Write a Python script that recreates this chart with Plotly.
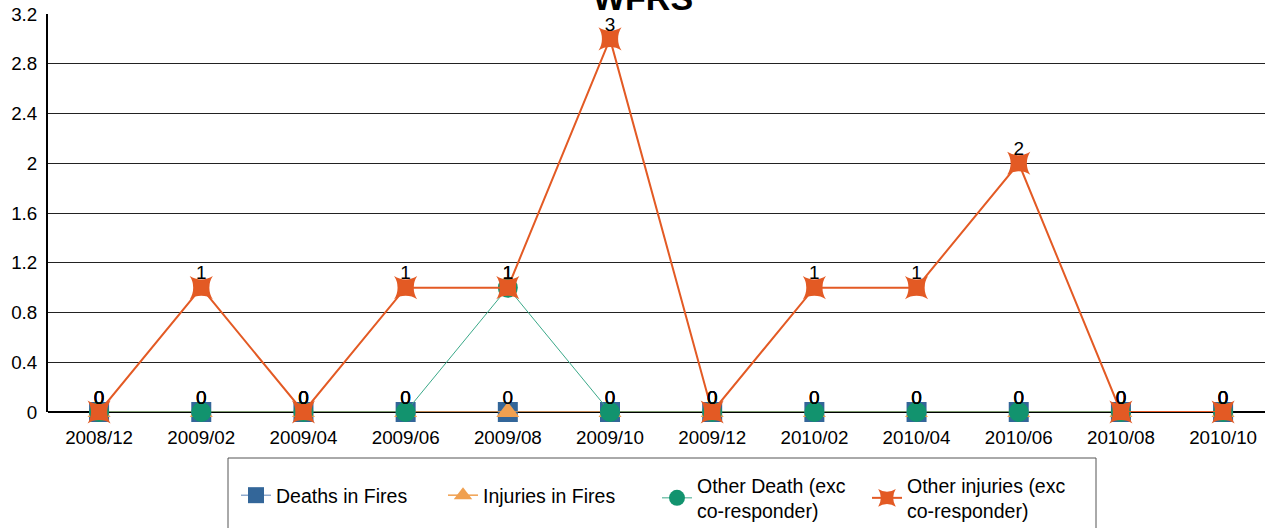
import plotly.graph_objects as go

categories = ["2008/12", "2009/02", "2009/04", "2009/06", "2009/08", "2009/10",
              "2009/12", "2010/02", "2010/04", "2010/06", "2010/08", "2010/10"]
deaths_in_fires = [0, 0, 0, 0, 0, 0, 0, 0, 0, 0, 0, 0]
injuries_in_fires = [0, 0, 0, 0, 0, 0, 0, 0, 0, 0, 0, 0]
other_death = [0, 0, 0, 0, 1, 0, 0, 0, 0, 0, 0, 0]
other_injuries = [0, 1, 0, 1, 1, 3, 0, 1, 1, 2, 0, 0]
y_ticks = [0, 0.4, 0.8, 1.2, 1.6, 2, 2.4, 2.8, 3.2]

FONT = "Liberation Sans, Arial, sans-serif"

W, H = 1265, 528
L, T, B = 48, 14, 116
plot_h = H - T - B
plot_w = W - L

def px_x(p):
    return (p - L) / plot_w

def px_y(p):
    return (H - B - p) / plot_h

# name, values, marker colour, line colour, line width, symbol, size, legend id, legend x(px), legend top(px)
series = [
    ("Deaths in Fires", deaths_in_fires, "#336699", "#5b82b5", 1, "square", 20, "legend", 236, 476),
    ("Injuries in Fires", injuries_in_fires, "#F0A050", "#F0A050", 1.5, "triangle-up", 20, "legend2", 443, 476),
    ("Other Death (exc<br>co-responder)", other_death, "#12936E", "#3aa888", 1, "circle", 20, "legend3", 657, 466),
    ("Other injuries (exc<br>co-responder)", other_injuries, "#E35A24", "#E35A24", 2, "star-square", 21, "legend4", 867, 466),
]

fig = go.Figure()
for name, vals, mcol, lcol, lw, sym, sz, lg, lx, ly in series:
    fig.add_trace(go.Scatter(
        x=categories, y=vals, name=name, mode="lines+markers",
        line=dict(color=lcol, width=lw),
        marker=dict(symbol=sym, size=sz, color=mcol, line=dict(width=0)),
        cliponaxis=False, legend=lg,
    ))
for name, vals, mcol, lcol, lw, sym, sz, lg, lx, ly in series:
    fig.add_trace(go.Scatter(
        x=categories, y=vals, mode="markers+text", showlegend=False,
        text=[str(v) for v in vals], textposition="top center",
        textfont=dict(family=FONT, size=19, color="#000"),
        marker=dict(size=4, color="rgba(0,0,0,0)"),
        cliponaxis=False, hoverinfo="skip",
    ))

legends = {}
for name, vals, mcol, lcol, lw, sym, sz, lg, lx, ly in series:
    legends[lg] = dict(orientation="h", x=px_x(lx), xanchor="left",
                       y=px_y(ly), yanchor="top", font=dict(size=19.5),
                       bgcolor="rgba(0,0,0,0)", borderwidth=0)

fig.update_layout(
    width=W, height=H,
    margin=dict(l=L, r=0, t=T, b=B, autoexpand=False),
    paper_bgcolor="white", plot_bgcolor="white",
    font=dict(family=FONT, size=18, color="#000"),
    showlegend=True,
    xaxis=dict(type="category", range=[-0.5, 11.41], showgrid=False,
               showline=False, ticks="", tickfont=dict(size=18.8), zeroline=False,
               ticklabelstandoff=12),
    yaxis=dict(range=[0, 3.2], tickvals=y_ticks, ticktext=[f"{v:g}" for v in y_ticks],
               showgrid=True, gridcolor="#222", gridwidth=1,
               showline=True, linecolor="#000", linewidth=2, ticks="",
               tickfont=dict(size=18.8), zeroline=False, ticklabelstandoff=5),
    annotations=[dict(text="<b>WFRS</b>", xref="paper", yref="paper",
                      x=px_x(643), y=px_y(18.5), xanchor="center", yanchor="bottom",
                      showarrow=False, font=dict(size=34, family=FONT))],
    shapes=[
        dict(type="line", xref="paper", yref="paper", x0=0, x1=1, y0=0, y1=0,
             line=dict(color="#000", width=2), layer="below"),
        dict(type="rect", xref="paper", yref="paper",
             x0=px_x(228), x1=px_x(1096), y0=px_y(458), y1=px_y(540),
             line=dict(color="#555", width=1), fillcolor="rgba(0,0,0,0)"),
    ],
    **legends,
)

fig.write_html("out.html", config={"displayModeBar": False},
               post_script="document.body.style.margin='0';document.body.style.overflow='hidden';")
